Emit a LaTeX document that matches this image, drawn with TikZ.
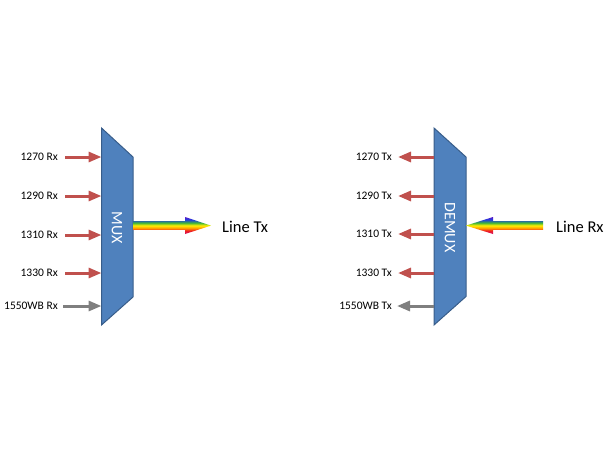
\documentclass[tikz,border=0pt]{standalone}
\usepackage{fontspec}
\setmainfont{Carlito}
\usetikzlibrary{arrows.meta}
\definecolor{muxfill}{HTML}{4F81BD}
\definecolor{muxdraw}{HTML}{385D8A}
\definecolor{arrred}{HTML}{C0504D}
\definecolor{arrgray}{HTML}{7F7F7F}
\definecolor{rbviolet}{HTML}{5A1AC8}
\definecolor{rbblue}{HTML}{1F3FE0}
\definecolor{rbgreen}{HTML}{3CB43C}
\definecolor{rbyellow}{HTML}{FFF000}
\definecolor{rborange}{HTML}{FF9A00}
\definecolor{rbred}{HTML}{F02020}
\definecolor{rbmag}{HTML}{D0106A}
\pgfdeclareverticalshading{rainbow}{100bp}{color(0bp)=(rbmag); color(25bp)=(rbmag); color(35bp)=(rbred); color(42bp)=(rborange); color(50bp)=(rbyellow); color(58bp)=(rbgreen); color(67bp)=(rbblue); color(75bp)=(rbviolet); color(100bp)=(rbviolet)}
\tikzset{
  lbl/.style={font=\fontsize{11.5}{13}\selectfont, inner sep=0pt, anchor=east},
  big/.style={font=\fontsize{16.5}{19}\selectfont, inner sep=0pt, anchor=west},
  boxtxt/.style={font=\fontsize{16}{19}\selectfont, text=white, rotate=-90, inner sep=0pt},
  muxbox/.style={fill=muxfill, draw=muxdraw, line width=1pt, line join=miter},
  redarrow/.style={draw=arrred, line width=3pt, -{Triangle[length=13pt,width=10pt]}},
  grayarrow/.style={draw=arrgray, line width=3pt, -{Triangle[length=13pt,width=10pt]}},
  rainbowarrow/.style={shading=rainbow}
}
\begin{document}
\begin{tikzpicture}[x=1pt,y=-1pt]
\useasboundingbox (0,0) rectangle (610,450);
% MUX
\path[muxbox] (101.5,128) -- (133,157) -- (133,297) -- (101.5,325) -- cycle;
\node[boxtxt] (mux) at (117,227.5) {MUX};
\foreach \y/\t/\n in {157/1270/a,196/1290/b,235/1310/c,273/1330/d}{
  \node[lbl] (m\n) at (58,\y) {\t\ Rx};
  \coordinate (mi\n) at (101.5,\y);
  \draw[redarrow] ([xshift=7pt]m\n.east) -- (mi\n);
}
\node[lbl] (me) at (58,306) {1550WB Rx};
\coordinate (mie) at (101.5,306);
\draw[grayarrow] ([xshift=5pt]me.east) -- (mie);
% Line Tx rainbow arrow
\path[rainbowarrow] (133,221) -- (185,221) -- (185,217) -- (211,225.6) -- (185,234) -- (185,229.8) -- (133,229.8) -- cycle;
\node[big] (ltx) at (222,226.5) {Line Tx};
% DEMUX
\path[muxbox] (434,128) -- (466,157) -- (466,296.5) -- (434,325) -- cycle;
\node[boxtxt] (demux) at (450,227.5) {DEMUX};
\foreach \y/\t/\n in {157/1270/a,196/1290/b,234/1310/c,273/1330/d}{
  \node[lbl] (d\n) at (392,\y) {\t\ Tx};
  \coordinate (do\n) at (434,\y);
  \draw[redarrow] (do\n) -- ([xshift=6pt]d\n.east);
}
\node[lbl] (de) at (392,306) {1550WB Tx};
\coordinate (doe) at (434,306);
\draw[grayarrow] (doe) -- ([xshift=5pt]de.east);
% Line Rx rainbow arrow
\path[rainbowarrow] (543,221) -- (493,221) -- (493,217) -- (466,225.6) -- (493,234) -- (493,229.8) -- (543,229.8) -- cycle;
\node[big] (lrx) at (556,226.5) {Line Rx};
\end{tikzpicture}
\end{document}
